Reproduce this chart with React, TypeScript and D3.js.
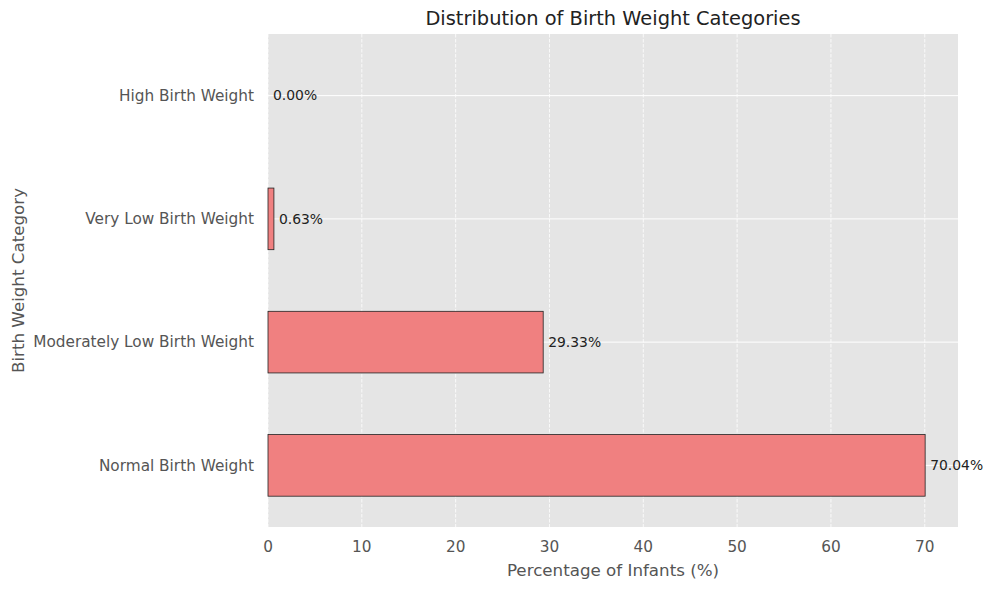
import * as d3 from "d3";
import { useEffect, useRef } from "react";

// data, bottom to top
const categories = [
  "Normal Birth Weight",
  "Moderately Low Birth Weight",
  "Very Low Birth Weight",
  "High Birth Weight",
];
const percentages = [70.04, 29.33, 0.63, 0.0];
const xTicks = [0, 10, 20, 30, 40, 50, 60, 70];

const W = 993;
const H = 590;
const margin = { left: 268, right: 35, top: 34, bottom: 63 };

export default function App() {
  const ref = useRef<SVGSVGElement | null>(null);

  useEffect(() => {
    const svg = d3.select(ref.current);
    svg.selectAll("*").remove();

    const font = "DejaVu Sans, sans-serif";
    const x0 = margin.left;
    const x1 = W - margin.right;
    const y0 = H - margin.bottom;
    const y1 = margin.top;

    const maxV = d3.max(percentages) as number;
    const x = d3.scaleLinear().domain([0, maxV * 1.05]).range([x0, x1]);
    const y = d3
      .scaleLinear()
      .domain([-0.5, categories.length - 0.5])
      .range([y0, y1]);

    // panel background
    svg
      .append("rect")
      .attr("x", x0)
      .attr("y", y1)
      .attr("width", x1 - x0)
      .attr("height", y0 - y1)
      .attr("fill", "#e5e5e5");

    // grid: horizontal solid, vertical dashed
    svg
      .append("g")
      .selectAll("line")
      .data(categories.map((_, i) => i))
      .join("line")
      .attr("x1", x0)
      .attr("x2", x1)
      .attr("y1", (d) => y(d))
      .attr("y2", (d) => y(d))
      .attr("stroke", "white")
      .attr("stroke-width", 1);

    svg
      .append("g")
      .selectAll("line")
      .data(xTicks)
      .join("line")
      .attr("x1", (d) => x(d))
      .attr("x2", (d) => x(d))
      .attr("y1", y1)
      .attr("y2", y0)
      .attr("stroke", "white")
      .attr("stroke-opacity", 0.8)
      .attr("stroke-dasharray", "3.5,1.5")
      .attr("stroke-width", 1);

    // bars
    const barH = y(0) - y(0.5);
    svg
      .append("g")
      .selectAll("rect")
      .data(percentages)
      .join("rect")
      .attr("x", x(0))
      .attr("y", (_, i) => y(i) - barH / 2)
      .attr("width", (d) => x(d) - x(0))
      .attr("height", barH)
      .attr("fill", "#f08080")
      .attr("stroke", (d) => (d > 0 ? "#222" : "none"))
      .attr("stroke-width", 0.8);

    // value labels
    svg
      .append("g")
      .selectAll("text")
      .data(percentages)
      .join("text")
      .attr("x", (d) => x(d) + 5)
      .attr("y", (_, i) => y(i))
      .attr("dy", "0.35em")
      .attr("font-family", font)
      .attr("font-size", 13.9)
      .attr("fill", "#222")
      .text((d) => `${d.toFixed(2)}%`);

    // y tick labels
    svg
      .append("g")
      .selectAll("text")
      .data(categories)
      .join("text")
      .attr("x", x0 - 14)
      .attr("y", (_, i) => y(i))
      .attr("dy", "0.35em")
      .attr("text-anchor", "end")
      .attr("font-family", font)
      .attr("font-size", 15.3)
      .attr("fill", "#555")
      .text((d) => d);

    // x tick labels
    svg
      .append("g")
      .selectAll("text")
      .data(xTicks)
      .join("text")
      .attr("x", (d) => x(d))
      .attr("y", y0 + 20)
      .attr("dy", "0.35em")
      .attr("text-anchor", "middle")
      .attr("font-family", font)
      .attr("font-size", 15.3)
      .attr("fill", "#555")
      .text((d) => d);

    // axis labels and title
    svg
      .append("text")
      .attr("x", (x0 + x1) / 2)
      .attr("y", y0 + 43)
      .attr("dy", "0.35em")
      .attr("text-anchor", "middle")
      .attr("font-family", font)
      .attr("font-size", 16.7)
      .attr("fill", "#555")
      .text("Percentage of Infants (%)");

    svg
      .append("text")
      .attr("transform", `translate(18,${(y0 + y1) / 2}) rotate(-90)`)
      .attr("dy", "0.35em")
      .attr("text-anchor", "middle")
      .attr("font-family", font)
      .attr("font-size", 16.7)
      .attr("fill", "#555")
      .text("Birth Weight Category");

    svg
      .append("text")
      .attr("x", (x0 + x1) / 2)
      .attr("y", 18)
      .attr("dy", "0.35em")
      .attr("text-anchor", "middle")
      .attr("font-family", font)
      .attr("font-size", 19.4)
      .attr("fill", "#222")
      .text("Distribution of Birth Weight Categories");
  }, []);

  return (
    <svg
      ref={ref}
      width={W}
      height={H}
      style={{ position: "absolute", left: 0, top: 0, background: "white" }}
    />
  );
}
